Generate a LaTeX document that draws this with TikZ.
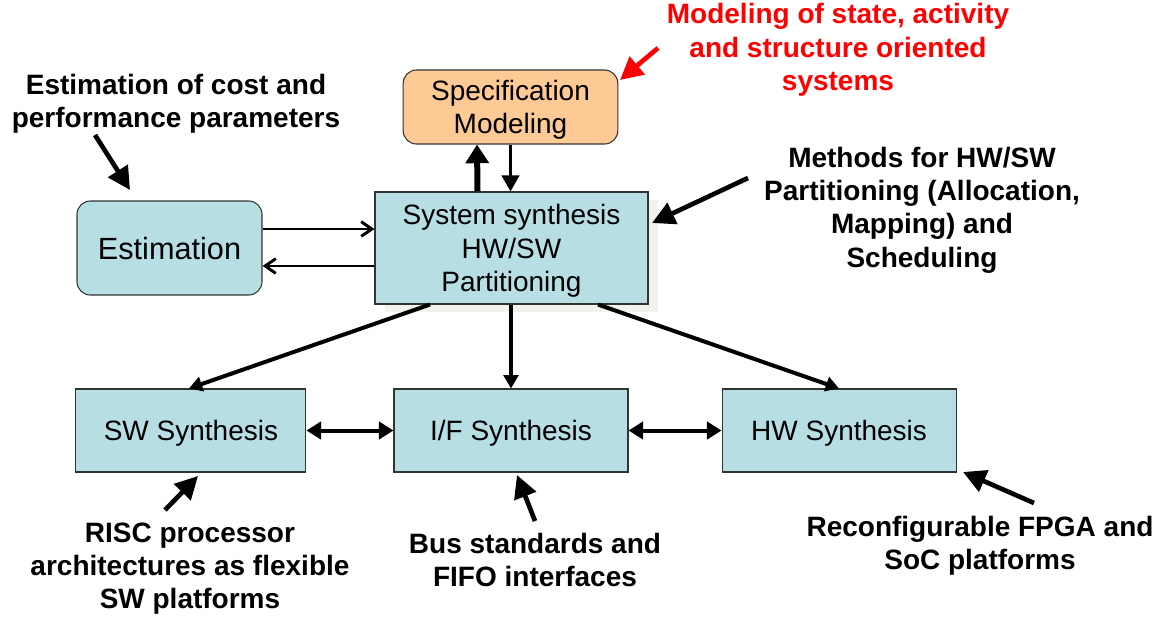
\documentclass[tikz,border=0pt]{standalone}
\usepackage{fontspec}
\setmainfont{Liberation Sans}
\usepackage{xcolor}
\usetikzlibrary{arrows.meta, positioning, calc, shadows}
\definecolor{boxblue}{RGB}{183,222,227}
\definecolor{specorange}{RGB}{253,202,150}
\definecolor{shadowgray}{RGB}{243,242,236}
\tikzset{
    box/.style={rectangle, draw=black!80, line width=0.8pt, fill=boxblue, align=center, text depth=0pt, font=\fontsize{21}{25}\selectfont},
    rbox/.style={box, rounded corners=10pt},
    note/.style={align=center, font=\fontsize{21}{25}\selectfont\bfseries},
    arrow/.style={-{Triangle[length=10pt,width=11pt]}, line width=3pt},
    dblarrow/.style={{Triangle[length=11pt,width=13pt]}-{Triangle[length=11pt,width=13pt]}, line width=3pt},
    barb/.style={-{Straight Barb[length=8pt,width=11pt]}, line width=2.2pt},
    pointer/.style={-{Triangle[length=17pt,width=17pt]}, line width=3.5pt}
}

\begin{document}
\begin{tikzpicture}[x=0.75pt, y=-0.75pt]
    \useasboundingbox (0,0) rectangle (1162,632);

    % --- Main blocks ---
    \node (spec) [rbox, fill=specorange, minimum width=161pt, minimum height=55.5pt] at (510.5,107) {Specification\\Modeling};
    \node (sys) [box, minimum width=204.75pt, minimum height=84pt, drop shadow={shadow xshift=7.5pt, shadow yshift=-6pt, fill=shadowgray, opacity=1}] at (511.5,248) {System synthesis\\HW/SW\\Partitioning};
    \node (est) [rbox, minimum width=138.75pt, minimum height=70.5pt, font=\fontsize{23}{27}\selectfont] at (169.5,248) {Estimation};

    % --- Synthesis row ---
    \node (if) [box, minimum width=175.5pt, minimum height=62.25pt] at (511,430.5) {I/F Synthesis};
    \node (sw) [box, left=65.25pt of if, minimum width=172.5pt, minimum height=62.25pt] {SW Synthesis};
    \node (hw) [box, right=69.75pt of if, minimum width=175.5pt, minimum height=62.25pt] {HW Synthesis};

    % --- Block connections ---
    \draw [-{Triangle[length=14pt,width=17pt]}, line width=4.5pt] ($(sys.north)+(-34,0)$) -- ($(spec.south)+(-33.5,0)$);
    \draw [-{Triangle[length=12pt,width=13pt]}, line width=2.2pt] (spec.south) -- (spec.south |- sys.north);
    \draw [barb] ($(est.east)+(0,-19)$) -- ($(sys.west)+(0,-19)$);
    \draw [barb] ($(sys.west)+(0,18)$) -- ($(est.east)+(0,18)$);

    \draw [arrow] ($(sys.south)+(-81.5,0)$) -- ($(sw.north)+(-2,0)$);
    \draw [arrow] (sys.south -| if.north) -- (if.north);
    \draw [arrow] ($(sys.south)+(86.5,0)$) -- (hw.north);

    \draw [dblarrow] (sw) -- (if);
    \draw [dblarrow] (if) -- (hw);

    % --- Annotations ---
    \node (estnote) [note] at (176,104) {Estimation of cost and\\performance parameters};
    \node (specnote) [note, text=red] at (838,50) {Modeling of state, activity\\and structure oriented\\systems};
    \node (partnote) [note] at (922,210) {Methods for HW/SW\\Partitioning (Allocation,\\Mapping) and\\Scheduling};
    \node (swnote) [note] at (190,568.5) {RISC processor\\architectures as flexible\\SW platforms};
    \node (ifnote) [note] at (535,560) {Bus standards and\\FIFO interfaces};
    \node (hwnote) [note] at (980,545.5) {Reconfigurable FPGA and\\SoC platforms};

    \coordinate (estTail) at (95,135);
    \coordinate (estTip) at (130,190);
    \coordinate (specTail) at (658,48);
    \coordinate (specTip) at (620,80);
    \coordinate (partTail) at (748,178);
    \coordinate (partTip) at (652,223);
    \coordinate (swTail) at (165,510);
    \coordinate (swTip) at (198,476);
    \coordinate (ifTail) at (535,521);
    \coordinate (ifTip) at (517,475);
    \coordinate (hwTail) at (1034,503);
    \coordinate (hwTip) at (963,472);

    \draw [pointer] (estTail) -- (estTip);
    \draw [pointer, red] (specTail) -- (specTip);
    \draw [pointer] (partTail) -- (partTip);
    \draw [pointer] (swTail) -- (swTip);
    \draw [pointer] (ifTail) -- (ifTip);
    \draw [pointer] (hwTail) -- (hwTip);
\end{tikzpicture}
\end{document}
